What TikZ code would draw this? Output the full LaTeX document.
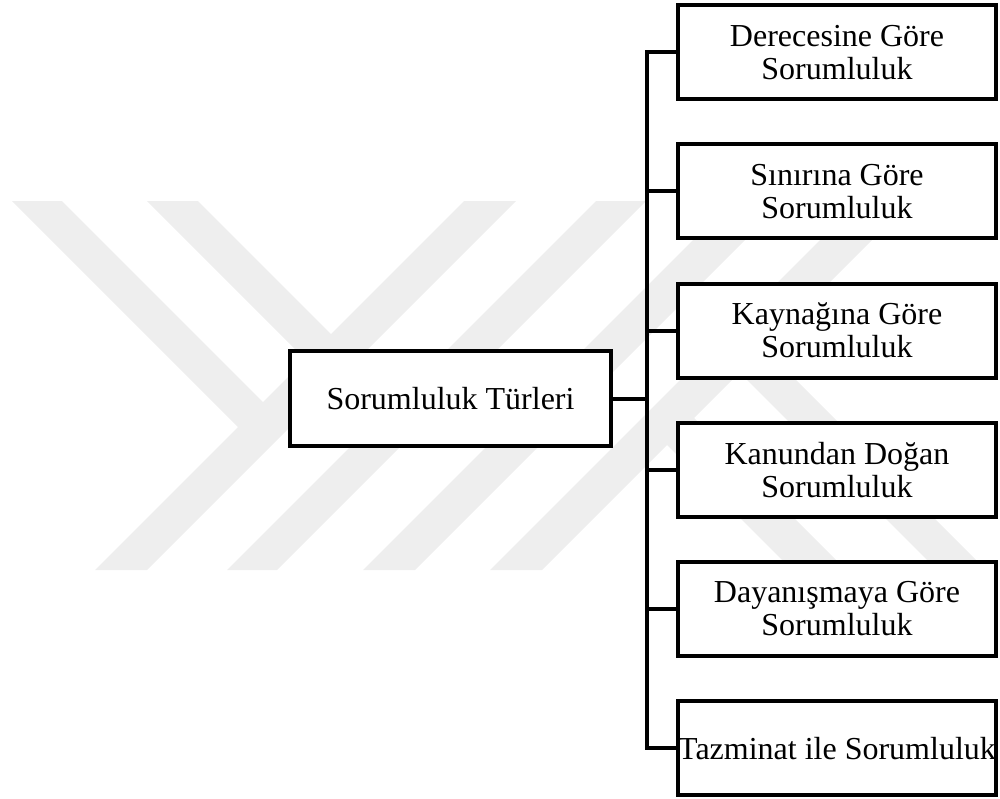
\documentclass[tikz,border=0pt]{standalone}
\usepackage{fontspec}
\setmainfont{Liberation Serif}
\usetikzlibrary{positioning}
\definecolor{colorwm}  {RGB}{238,238,238}
\definecolor{colorline}{RGB}{0,0,0}

\begin{document}
\begin{tikzpicture}[
    x=0.5pt, y=-0.5pt,
    node distance = 20.6pt,
    font={\fontsize{16pt}{16.5pt}\selectfont},
    root/.style={draw=colorline,line width=2pt,fill=white,inner sep=0pt,align=center,rectangle,minimum width=160.5pt,minimum height=47.5pt},
    leaf/.style={draw=colorline,line width=2pt,fill=white,inner sep=0pt,align=center,rectangle,minimum width=159pt,minimum height=47pt},
    link/.style={draw=colorline,line width=2pt},
    watermark/.style={fill=colorwm,draw=none},
]

    \useasboundingbox (0,0) rectangle (1000,798);

    % Watermark
    \fill[watermark] (95,570) -- (147,570) -- (516,201) -- (464,201) -- cycle;
    \fill[watermark] (227,570) -- (277,570) -- (646,201) -- (596,201) -- cycle;
    \fill[watermark] (363,570) -- (415,570) -- (784,201) -- (732,201) -- cycle;
    \fill[watermark] (490,570) -- (542,570) -- (911,201) -- (859,201) -- cycle;
    \fill[watermark] (12,201) -- (62,201) -- (289,428) -- (238,427) -- cycle;
    \fill[watermark] (147,201) -- (198,201) -- (357,360) -- (305.5,359.5) -- cycle;
    \fill[watermark] (641,419) -- (694,418) -- (846,570) -- (792,570) -- cycle;
    \fill[watermark] (713.5,346.5) -- (764,348) -- (986,570) -- (937,570) -- cycle;

    % Boxes
    \node[root] (root) at (450.5,398.5) {Sorumluluk Türleri};

    \node[leaf, above right=9.5pt and 31.5pt of root.east] (kaynak) {Kaynağına Göre\\Sorumluluk};
    \node[leaf, above=of kaynak] (sinir)  {Sınırına Göre\\Sorumluluk};
    \node[leaf, above=of sinir]  (derece) {Derecesine Göre\\Sorumluluk};
    \node[leaf, below=of kaynak]    (kanun)     {Kanundan Doğan\\Sorumluluk};
    \node[leaf, below=of kanun]     (dayanisma) {Dayanışmaya Göre\\Sorumluluk};
    \node[leaf, below=of dayanisma] (tazminat)  {Tazminat ile Sorumluluk};

    % Links
    \draw[link] (root.east) -- ++(17pt,0) coordinate (bus);
    \draw[link] (derece.west) -| (bus) |- (tazminat.west);
    \draw[link] (bus |- sinir.west) -- (sinir.west);
    \draw[link] (bus |- kaynak.west) -- (kaynak.west);
    \draw[link] (bus |- kanun.west) -- (kanun.west);
    \draw[link] (bus |- dayanisma.west) -- (dayanisma.west);

\end{tikzpicture}
\end{document}
